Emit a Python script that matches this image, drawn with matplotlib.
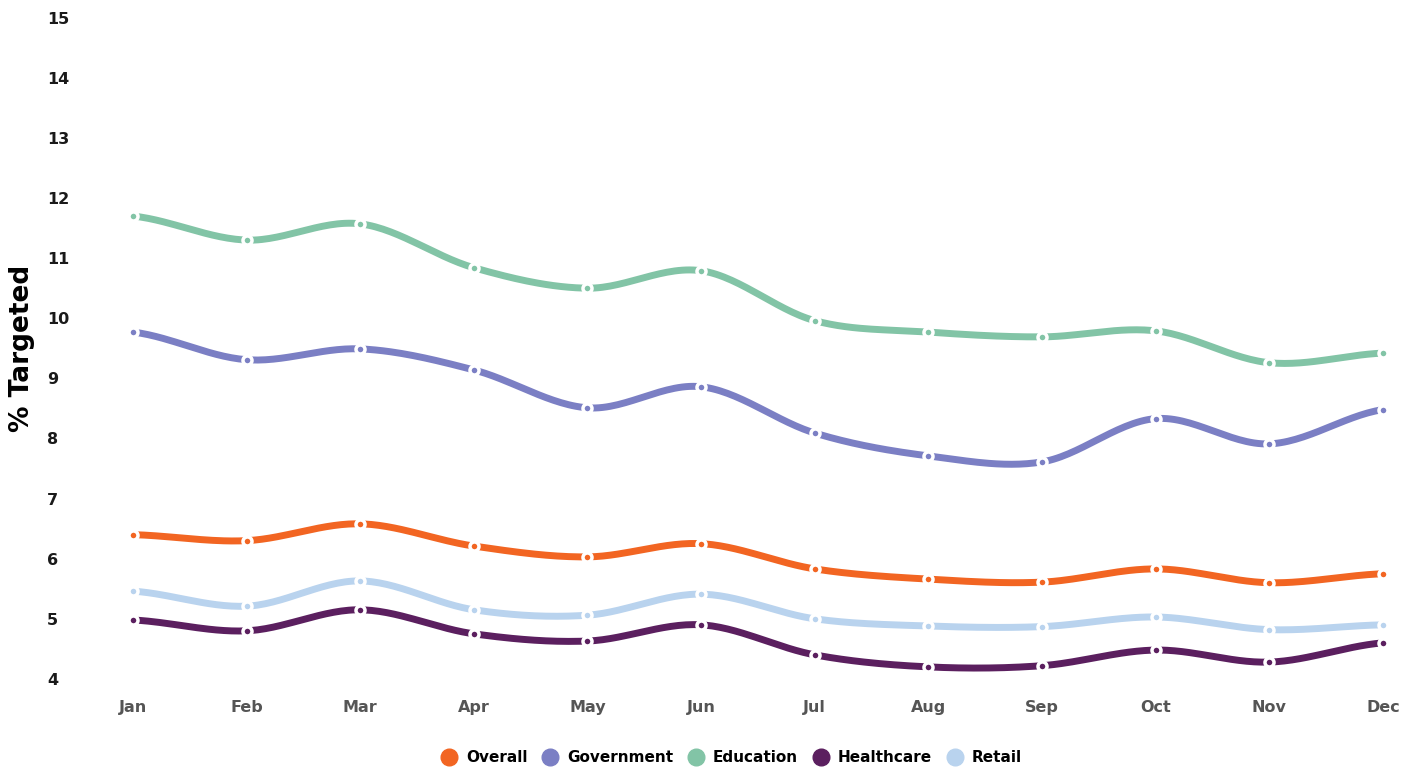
import numpy as np
import matplotlib
matplotlib.use("Agg")
from matplotlib import pyplot as plt
from matplotlib.lines import Line2D

months = ["Jan", "Feb", "Mar", "Apr", "May", "Jun", "Jul", "Aug", "Sep", "Oct", "Nov", "Dec"]
overall = [6.40, 6.30, 6.58, 6.21, 6.03, 6.25, 5.83, 5.66, 5.61, 5.83, 5.60, 5.75]
government = [9.77, 9.31, 9.49, 9.14, 8.51, 8.86, 8.09, 7.71, 7.61, 8.33, 7.91, 8.48]
education = [11.70, 11.30, 11.57, 10.84, 10.50, 10.79, 9.96, 9.77, 9.69, 9.79, 9.26, 9.42]
healthcare = [4.98, 4.80, 5.15, 4.75, 4.63, 4.90, 4.40, 4.20, 4.22, 4.48, 4.28, 4.60]
retail = [5.46, 5.21, 5.63, 5.15, 5.06, 5.41, 5.00, 4.88, 4.87, 5.03, 4.82, 4.90]

names = ["Overall", "Government", "Education", "Healthcare", "Retail"]
colors = ["#f26522", "#7b7fc4", "#82c4a6", "#5b1f5f", "#b9d3ee"]
series = [overall, government, education, healthcare, retail]


def smooth(y, n=30):
    # catmull-rom curve through the points, just for drawing
    y = np.asarray(y, float)
    p = np.concatenate([[y[0]], y, [y[-1]]])
    xs, ys = [], []
    for i in range(len(y) - 1):
        p0, p1, p2, p3 = p[i], p[i + 1], p[i + 2], p[i + 3]
        t = np.linspace(0, 1, n, endpoint=False)
        v = 0.5 * (2 * p1 + (-p0 + p2) * t + (2 * p0 - 5 * p1 + 4 * p2 - p3) * t ** 2
                   + (-p0 + 3 * p1 - 3 * p2 + p3) * t ** 3)
        xs.append(i + t)
        ys.append(v)
    xs.append([len(y) - 1])
    ys.append([y[-1]])
    return np.concatenate(xs), np.concatenate(ys)


fig = plt.figure(figsize=(14.13, 7.68), dpi=100)
ax = fig.add_axes([0.0941, 0.116, 0.8846, 0.861])

x = np.arange(len(months))
for s, c in zip(series, colors):
    sx, sy = smooth(s)
    ax.plot(sx, sy, color=c, lw=5, solid_capstyle="round", zorder=2)
    ax.plot(x, s, "o", color=c, ms=6.5, mec="white", mew=2.5, zorder=3, clip_on=False)

ax.set_xlim(0, 11)
ax.set_ylim(4, 15)
ax.set_yticks(range(4, 16))
ax.set_xticks(x)
ax.set_xticklabels(months, fontsize=11.5, fontweight="bold", color="#555555")
ax.tick_params(axis="y", labelsize=11.5, length=0, pad=62, labelcolor="#1a1a1a")
ax.tick_params(axis="x", length=0, pad=15)
for lab in ax.get_yticklabels():
    lab.set_fontweight("bold")
    lab.set_horizontalalignment("left")
for sp in ax.spines.values():
    sp.set_visible(False)

ax.set_ylabel("% Targeted", fontsize=19, fontweight="bold")
ax.yaxis.set_label_coords(-0.078, 0.5)

handles = [Line2D([], [], ls="", marker="o", ms=12, color=c) for c in colors]
fig.legend(handles, names, loc="lower center", bbox_to_anchor=(0.515, -0.014), ncol=5,
           frameon=False, handletextpad=0.1, columnspacing=0.5,
           prop={"weight": "bold", "size": 11})

fig.savefig("out.png", dpi=100)
